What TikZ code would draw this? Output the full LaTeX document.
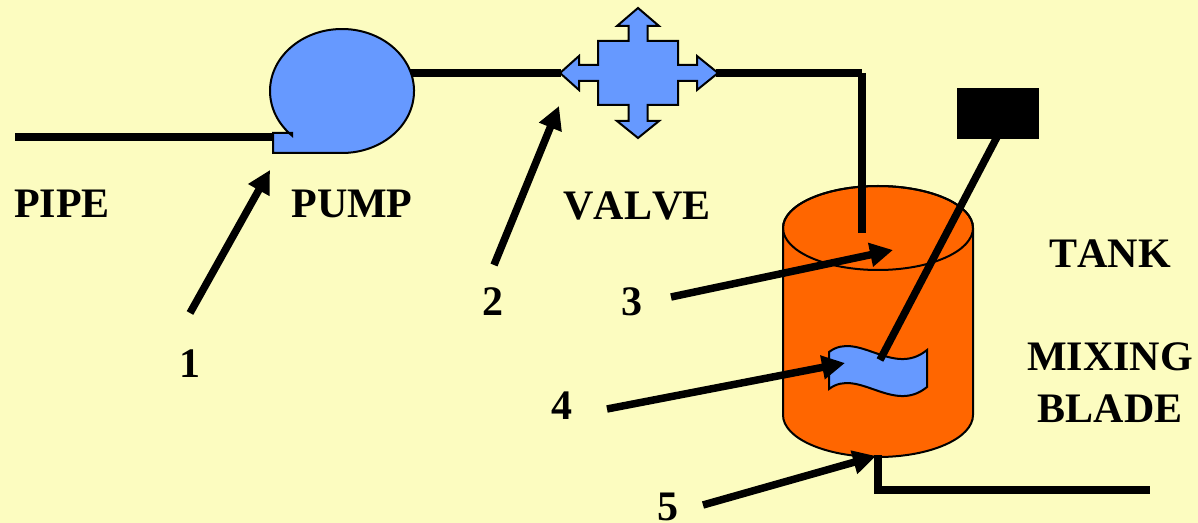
\documentclass[tikz,border=0pt]{standalone}
\usepackage{fontspec}
\setmainfont{Liberation Serif}[Kerning=Off]
\usetikzlibrary{arrows.meta}
\definecolor{bgyellow}{RGB}{252,252,192}
\definecolor{partblue}{RGB}{102,153,255}
\definecolor{tankorange}{RGB}{255,102,0}
\begin{document}
\begin{tikzpicture}[x=0.5pt,y=0.5pt,
  pipe/.style={line width=3.75pt, line join=miter},
  pointer/.style={line width=3.75pt,-{Triangle[length=11.5pt,width=11.5pt]}},
  lbl/.style={font=\bfseries\fontsize{21pt}{25pt}\selectfont, inner sep=0pt},
  part/.style={fill=partblue, draw=black, line width=1pt, line join=miter},
  tankbody/.style={fill=tankorange, draw=black, line width=1pt}]

\fill[bgyellow] (0,0) rectangle (1198,-523);
\useasboundingbox (0,0) rectangle (1198,-523);

% named points
\coordinate (pipein) at (15,-137);
\coordinate (pumpin) at (274,-137);
\coordinate (pumpout) at (410,-73);
\coordinate (valvein) at (561,-73);
\coordinate (valveout) at (716,-73);
\coordinate (corner) at (862,-73);
\coordinate (tankin) at (862,-233);
\coordinate (tankout) at (878,-455);
\coordinate (outcorner) at (878,-490);
\coordinate (outend) at (1150,-490);
\coordinate (motor) at (997,-137);
\coordinate (hub) at (880,-360);

% pipes
\draw[pipe] (pipein) -- (pumpin);
\draw[pipe] (pumpout) -- (valvein);
\draw[pipe] (valveout) -- (corner);

% pump
\draw[part] (273,-153) -- (273,-133) -- (292,-133) -- (292,-135.6)
  arc[start angle=226,end angle=-90,x radius=36pt,y radius=31pt] -- cycle;

% valve
\draw[part] (638,-8) -- (659,-26) -- (647.5,-26) -- (647.5,-41) -- (678,-41)
  -- (678,-65) -- (697,-65) -- (697,-56) -- (718,-73) -- (697,-90) -- (697,-81)
  -- (678,-81) -- (678,-105) -- (647.5,-105) -- (647.5,-121) -- (659,-121)
  -- (638,-138) -- (617,-121) -- (628.5,-121) -- (628.5,-105) -- (598,-105)
  -- (598,-81) -- (579,-81) -- (579,-90) -- (560,-73) -- (579,-56) -- (579,-65)
  -- (598,-65) -- (598,-41) -- (628.5,-41) -- (628.5,-26) -- (617,-26) -- cycle;

% tank
\draw[tankbody] (783,-228) -- (783,-415)
  arc[start angle=180,end angle=360,x radius=47.5pt,y radius=21pt]
  -- (973,-228)
  arc[start angle=0,end angle=180,x radius=47.5pt,y radius=21pt] -- cycle;
\draw[line width=1pt] (878,-228) ellipse[x radius=47.5pt,y radius=21pt];

% tank pipes
\draw[pipe] (corner) -- (tankin);
\draw[pipe] (tankout) -- (outcorner) -- (outend);

% motor
\fill[black] (957,-88) rectangle (1039,-139);

% mixing blade
\draw[part] (829,-352) .. controls (858,-330) and (893,-378) .. (927,-350)
  -- (927,-387) .. controls (893,-415) and (858,-367) .. (829,-389) -- cycle;

% shaft
\draw[pipe] (motor) -- (hub);

% pointer tails and heads
\coordinate (t1) at (190,-313);
\coordinate (h1) at (270,-170);
\coordinate (t2) at (494,-265);
\coordinate (h2) at (559,-106);
\coordinate (t3) at (671,-297);
\coordinate (h3) at (893,-250);
\coordinate (t4) at (607,-409);
\coordinate (h4) at (845,-363);
\coordinate (t5) at (703,-505);
\coordinate (h5) at (876,-456);

\draw[pointer] (t1) -- (h1);
\draw[pointer] (t2) -- (h2);
\draw[pointer] (t3) -- (h3);
\draw[pointer] (t4) -- (h4);
\draw[pointer] (t5) -- (h5);

% labels
\node[lbl] (lpipe) at (62,-204) {PIPE};
\node[lbl] (lpump) at (352,-204) {PUMP};
\node[lbl] (lvalve) at (637,-206) {VALVE};
\node[lbl] (ltank) at (1110,-254) {TANK};
\node[lbl] (lmix) at (1110,-357) {MIXING};
\node[lbl] (lblade) at (1110,-409) {BLADE};
\node[lbl] (n1) at (190,-364) {1};
\node[lbl] (n2) at (493,-302) {2};
\node[lbl] (n3) at (632,-302) {3};
\node[lbl] (n4) at (562,-406) {4};
\node[lbl] (n5) at (668,-507) {5};
\end{tikzpicture}
\end{document}
